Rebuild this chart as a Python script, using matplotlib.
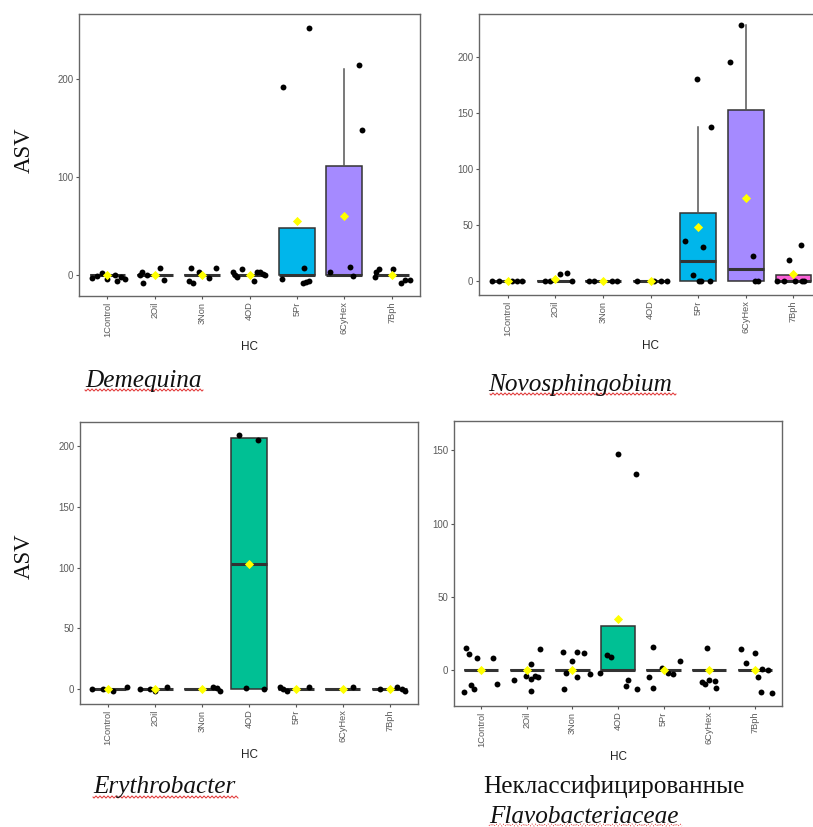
import numpy as np
import matplotlib
matplotlib.use("Agg")
import matplotlib.pyplot as plt
from matplotlib.lines import Line2D

# ---------------------------------------------------------------- data
groups = ["1Control", "2Oil", "3Non", "4OD", "5Pr", "6CyHex", "7Bph"]
group_colors = ["#F8766D", "#C49A00", "#53B400", "#00C094",
                "#00B6EB", "#A58AFF", "#FB61D7"]

# Demequina
dem_q1 = [0, 0, 0, 0, 0, 0, 0]
dem_med = [0, 0, 0, 0, 0, 0, 0]
dem_q3 = [0, 0, 0, 0, 48, 111, 0]
dem_whishi = [0, 0, 0, 0, 48, 210, 0]
dem_mean = [0, 0, 0, 0, 55, 60, 0]
dem_pts = [
    [-3, 2, -4, 0, -6, -2, -4, -1],
    [3, -8, 0, 8, -5, 0],
    [8, -6, -8, 3, -3, 8],
    [3.4, 0, -2, 6, -6, 3.4, 3.4, 1, 0],
    [192, 252, 7, -4, -8, -7, -6],
    [3, 8.5, -1, 214, 148],
    [-2, 3.4, 6, 6.5, -8, -5, -4.5],
]
dem_jit = [
    [-0.32, -0.11, 0, 0.15, 0.21, 0.29, 0.38, -0.21],
    [-0.27, -0.24, -0.16, 0.1, 0.19, -0.32],
    [-0.24, -0.27, -0.2, -0.06, 0.15, 0.29],
    [-0.34, -0.31, -0.26, -0.16, 0.09, 0.15, 0.22, 0.29, 0.33],
    [-0.3, 0.26, 0.15, -0.32, 0.13, 0.19, 0.25],
    [-0.31, 0.12, 0.18, 0.31, 0.37],
    [-0.36, -0.32, -0.27, 0.03, 0.19, 0.29, 0.38],
]

# Novosphingobium
nov_q1 = [0, 0, 0, 0, 0, 0, 0]
nov_med = [0, 0, 0, 0, 18, 11, 0]
nov_q3 = [0, 0, 0, 0, 61, 152, 5]
nov_whishi = [0, 0, 0, 0, 137, 228, 5]
nov_mean = [0, 2, 0, 0, 48.5, 74.4, 6.25]
nov_pts = [
    [0, 0, 0, 0, 0],
    [0, 0, 6, 7.4, 0],
    [0, 0, 0, 0],
    [0, 0, 0, 0],
    [180, 137, 36, 30, 5, 0, 0, 0],
    [228, 195, 22, 0, 0],
    [18.75, 32, 0, 0, 0, 0, 0],
]
nov_jit = [
    [-0.32, -0.18, 0.1, 0.2, 0.31],
    [-0.22, -0.1, 0.11, 0.24, 0.36],
    [-0.29, -0.19, 0.2, 0.3],
    [-0.28, 0.07, 0.21, 0.35],
    [-0.02, 0.28, -0.27, 0.1, -0.11, 0.01, 0.07, 0.24],
    [-0.11, -0.34, 0.15, 0.2, 0.25],
    [-0.1, 0.15, -0.34, -0.2, 0.04, 0.18, 0.23],
]

# Erythrobacter
ery_q1 = [0, 0, 0, 0, 0, 0, 0]
ery_med = [0, 0, 0, 103, 0, 0, 0]
ery_q3 = [0, 0, 0, 207, 0, 0, 0]
ery_whishi = [0, 0, 0, 207, 0, 0, 0]
ery_mean = [0, 0, 0, 103.4, 0, 0, 0]
ery_pts = [
    [0, 0, -1.4, 1.4],
    [0, 0, -1.4, 1.4],
    [2, 0.5, -1.4],
    [209, 205, 0.5, 0],
    [2, 0, -1.4, 2],
    [1.4],
    [0, 1.4, 0, -1.4],
]
ery_jit = [
    [-0.35, -0.1, 0.11, 0.4],
    [-0.32, -0.11, 0, 0.26],
    [0.23, 0.31, 0.38],
    [-0.22, 0.19, -0.06, 0.31],
    [-0.33, -0.27, -0.18, 0.28],
    [0.22],
    [-0.2, 0.15, 0.25, 0.33],
]

# Unclassified Flavobacteriaceae
fla_q1 = [0, 0, 0, 0, 0, 0, 0]
fla_med = [0, 0, 0, 0, 0, 0, 0]
fla_q3 = [0, 0, 0, 30, 0, 0, 0]
fla_whishi = [0, 0, 0, 30, 0, 0, 0]
fla_mean = [0, 0, 0, 35, 0, 0, 0]
fla_pts = [
    [15, 11, 8, 8.5, -10, -13, -15, -9.5],
    [-7, -4, 4, -6, -4, -4.5, -14, 14.5],
    [12.5, 12.5, 12, 6, -2.3, -13, -5, -2.7],
    [147.2, 133.6, 10.2, 9.1, -1.8, -6.8, -10.9, -13.2],
    [15.5, 6.4, -4.5, -12.5, 1.6, -2.3, -2.7],
    [15, -8.4, -9.5, -6.8, -7.3, -12],
    [14.3, 11.8, 5, 1, 0, -5, -14.8, -15.5],
]
fla_jit = [
    [-0.33, -0.26, -0.1, 0.25, -0.22, -0.17, -0.39, 0.34],
    [-0.28, -0.01, 0.1, 0.09, 0.18, 0.24, 0.09, 0.29],
    [-0.21, 0.11, 0.26, -0.02, -0.15, -0.18, 0.09, 0.39],
    [-0.01, 0.4, -0.25, -0.15, -0.39, 0.23, 0.18, 0.41],
    [-0.24, 0.36, -0.32, -0.24, -0.03, 0.09, 0.21],
    [-0.04, -0.16, -0.09, 0, 0.12, 0.16],
    [-0.29, 0, -0.18, 0.17, 0.29, 0.08, 0.14, 0.39],
]

# ---------------------------------------------------------------- figure
W, H = 813, 827
fig = plt.figure(figsize=(W / 100, H / 100), dpi=100)
fig.patch.set_facecolor("white")


def px_axes(x0, y0, x1, y1):
    """Axes from pixel box (top-left origin)."""
    return fig.add_axes([x0 / W, 1 - y1 / H, (x1 - x0) / W, (y1 - y0) / H])


def draw_panel(ax, q1, med, q3, whishi, means, pts, jit, ylim, yticks):
    stats = []
    for i in range(len(groups)):
        stats.append(dict(label=groups[i], q1=q1[i], med=med[i], q3=q3[i],
                          whislo=q1[i], whishi=whishi[i], fliers=[]))
    bp = ax.bxp(stats, positions=range(1, 8), widths=0.75, patch_artist=True,
                showcaps=False, showfliers=False,
                boxprops=dict(edgecolor="#333333", linewidth=1.1),
                medianprops=dict(color="#333333", linewidth=2.2,
                                 solid_capstyle="butt"),
                whiskerprops=dict(color="#555555", linewidth=1.1))
    for patch, c in zip(bp["boxes"], group_colors):
        patch.set_facecolor(c)
    for i in range(len(groups)):
        xs = [i + 1 + d for d in jit[i]]
        ax.scatter(xs, pts[i], s=18, color="black", zorder=3, linewidths=0)
    ax.scatter(range(1, 8), means, marker="D", s=22, color="#FFFF00",
               zorder=4, linewidths=0)

    ax.set_xlim(0.4, 7.6)
    ax.set_ylim(*ylim)
    ax.set_xticks(range(1, 8))
    ax.set_xticklabels(groups, rotation=90, fontsize=6.7, color="#5a5a5a",
                       family="Liberation Sans")
    ax.set_yticks(yticks)
    ax.set_yticklabels([str(t) for t in yticks], fontsize=7, color="#5a5a5a",
                       family="Liberation Sans")
    ax.tick_params(length=2.5, width=0.8, color="#555555", pad=1.5)
    for sp in ax.spines.values():
        sp.set_color("#666666")
        sp.set_linewidth(1.0)
    ax.set_xlabel("HC", fontsize=8.5, color="#222222", family="Liberation Sans")
    ax.xaxis.label.set_va("center")
    ax.xaxis.set_label_coords(0.5, -0.18)


ax1 = px_axes(79, 14, 420, 296)
draw_panel(ax1, dem_q1, dem_med, dem_q3, dem_whishi, dem_mean,
           dem_pts, dem_jit, (-21, 266), [0, 100, 200])

ax2 = px_axes(479, 14, 822, 295)
draw_panel(ax2, nov_q1, nov_med, nov_q3, nov_whishi, nov_mean,
           nov_pts, nov_jit, (-12.5, 238), [0, 50, 100, 150, 200])

ax3 = px_axes(80, 422, 418, 704)
draw_panel(ax3, ery_q1, ery_med, ery_q3, ery_whishi, ery_mean,
           ery_pts, ery_jit, (-12.3, 220), [0, 50, 100, 150, 200])

ax4 = px_axes(454, 421, 782, 706)
draw_panel(ax4, fla_q1, fla_med, fla_q3, fla_whishi, fla_mean,
           fla_pts, fla_jit, (-24.5, 170), [0, 50, 100, 150])

# y-axis titles
for yc in (150, 556):
    fig.text(24 / W, 1 - yc / H, "ASV", rotation=90, ha="center", va="center",
             fontsize=16.5, family="Liberation Serif", color="#111111")

# captions
serif = "Liberation Serif"
captions = [
    (85, 387, "Demequina", "italic"),
    (488, 391, "Novosphingobium", "italic"),
    (93, 793, "Erythrobacter", "italic"),
    (483, 793, "Неклассифицированные", "normal"),
    (489, 823, "Flavobacteriaceae", "italic"),
]
for x, yb, txt, style in captions:
    fig.text(x / W, 1 - yb / H, txt, ha="left", va="baseline", fontsize=18.2,
             family=serif, style=style, color="#111111")

# wavy red underlines beneath the taxon names
for x0, x1, yb, ls in [(85, 203, 390, "-"), (490, 676, 394, "-"),
                       (93, 238, 797, "-"), (489, 682, 825, ":")]:
    xs = np.linspace(x0, x1, int((x1 - x0) * 2))
    ys = yb + 1.0 * np.sin((xs - x0) * 2 * np.pi / 4.0)
    fig.add_artist(Line2D(xs / W, 1 - ys / H, color="#E03030", lw=0.7,
                          linestyle=ls, transform=fig.transFigure))

fig.savefig("out.png", dpi=100)
